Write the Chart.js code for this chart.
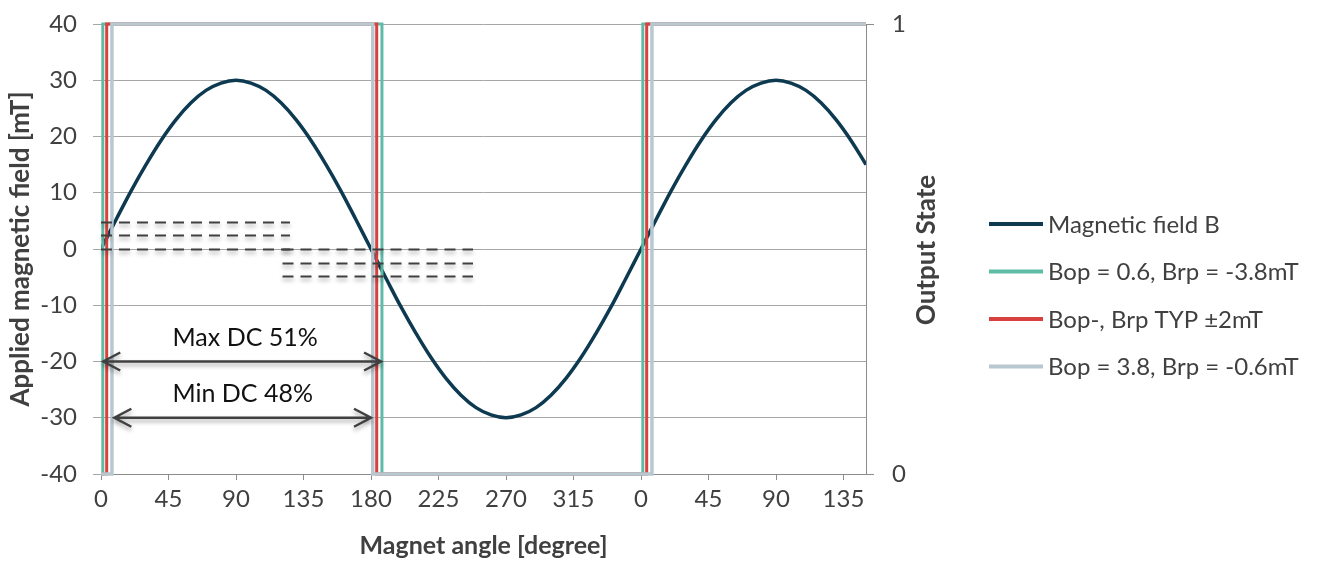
<!DOCTYPE html>
<html>
<head>
<meta charset="utf-8">
<script src="https://cdn.jsdelivr.net/npm/chart.js@4.4.0/dist/chart.umd.min.js"></script>
<style>
  html, body { margin: 0; padding: 0; background: #fff; }
  #wrap { width: 1317px; height: 562px; }
</style>
</head>
<body>
<div id="wrap"><canvas id="chart" width="1317" height="562"></canvas></div>
<script>
// Magnet angle (degrees, continuous) and field
const angles = [0, 10, 20, 30, 40, 50, 60, 70, 80, 90, 100, 110, 120, 130, 140, 150, 160, 170, 180,
  190, 200, 210, 220, 230, 240, 250, 260, 270, 280, 290, 300, 310, 320, 330, 340, 350, 360,
  370, 380, 390, 400, 410, 420, 430, 440, 450, 460, 470, 480, 490, 500, 510];
const fieldB = [0, 5.2, 10.3, 15, 19.3, 23, 26, 28.2, 29.5, 30, 29.5, 28.2, 26, 23, 19.3, 15, 10.3, 5.2, 0,
  -5.2, -10.3, -15, -19.3, -23, -26, -28.2, -29.5, -30, -29.5, -28.2, -26, -23, -19.3, -15, -10.3, -5.2, 0,
  5.2, 10.3, 15, 19.3, 23, 26, 28.2, 29.5, 30, 29.5, 28.2, 26, 23, 19.3, 15];

// Output state switching points (angle where state changes, new state)
const stateValues = [0, 1, 0, 1, 1];
const switchLow = [0, 1.2, 187.3, 361.2, 510];   // Bop = 0.6, Brp = -3.8
const switchTyp = [0, 3.8, 183.8, 363.8, 510];   // Bop/Brp typ +-2
const switchHigh = [0, 7.3, 181.2, 367.3, 510];  // Bop = 3.8, Brp = -0.6

const seriesNames = ['Magnetic field B', 'Bop = 0.6, Brp = -3.8mT', 'Bop-, Brp TYP \u00b12mT', 'Bop = 3.8, Brp = -0.6mT'];
const seriesColors = ['#0d3a50', '#5fbba6', '#d9413e', '#b8c8d0'];

const xTickValues = [0, 45, 90, 135, 180, 225, 270, 315, 360, 405, 450, 495];
const xTickLabels = ['0', '45', '90', '135', '180', '225', '270', '315', '0', '45', '90', '135'];

// dashed threshold markers
const dashLevelsA = [4.75, 2.5, 0];
const dashSpanA = [0, 126];
const dashLevelsB = [0, -2.4, -4.75];
const dashSpanB = [121, 248];

// duty cycle arrows
const dcLabels = ['Max DC 51%', 'Min DC 48%'];
const dcFrom = [1.5, 8.9];
const dcTo = [186.7, 180];
const dcLevel = [-20, -30];

function pts(xs, ys) {
  return xs.map((v, i) => ({ x: v, y: ys[i] }));
}

Chart.defaults.font.family = 'Lato, "Open Sans", sans-serif';
Chart.defaults.color = '#404040';

const overlay = {
  id: 'overlay',
  afterDatasetsDraw(chart) {
    const ctx = chart.ctx;
    const xs = chart.scales.x, ys = chart.scales.y;
    ctx.save();
    ctx.shadowColor = 'rgba(0,0,0,0.35)';
    ctx.shadowBlur = 4;
    ctx.shadowOffsetY = 3;
    ctx.strokeStyle = '#404040';
    ctx.lineWidth = 2;
    ctx.setLineDash([11, 7]);
    [[dashLevelsA, dashSpanA], [dashLevelsB, dashSpanB]].forEach(([levels, span]) => {
      levels.forEach(l => {
        const py = Math.round(ys.getPixelForValue(l)) + 0.5;
        ctx.beginPath();
        ctx.moveTo(xs.getPixelForValue(span[0]), py);
        ctx.lineTo(xs.getPixelForValue(span[1]), py);
        ctx.stroke();
      });
    });
    ctx.setLineDash([]);
    ctx.lineWidth = 2.5;
    dcLabels.forEach((txt, i) => {
      const x1 = xs.getPixelForValue(dcFrom[i]);
      const x2 = xs.getPixelForValue(dcTo[i]);
      const py = ys.getPixelForValue(dcLevel[i]);
      ctx.beginPath();
      ctx.moveTo(x1, py); ctx.lineTo(x2, py);
      ctx.moveTo(x1 + 17, py - 9); ctx.lineTo(x1, py); ctx.lineTo(x1 + 17, py + 9);
      ctx.moveTo(x2 - 17, py - 9); ctx.lineTo(x2, py); ctx.lineTo(x2 - 17, py + 9);
      ctx.stroke();
    });
    ctx.shadowColor = 'transparent';
    ctx.fillStyle = '#111';
    ctx.font = '25px Lato';
    ctx.textAlign = 'center';
    ctx.textBaseline = 'alphabetic';
    dcLabels.forEach((txt, i) => {
      const mid = xs.getPixelForValue((dcFrom[i] + dcTo[i]) / 2);
      ctx.fillText(txt, mid + (i === 0 ? 3 : 0), ys.getPixelForValue(dcLevel[i]) - 16);
    });

    // legend
    ctx.font = '24px Lato';
    ctx.textAlign = 'left';
    ctx.textBaseline = 'middle';
    ctx.lineWidth = 4;
    seriesNames.forEach((name, i) => {
      const ly = 224 + i * 47.5;
      ctx.strokeStyle = seriesColors[i];
      ctx.beginPath();
      ctx.moveTo(989, ly); ctx.lineTo(1043, ly);
      ctx.stroke();
      ctx.fillStyle = '#404040';
      ctx.fillText(name, 1048, ly + 1);
    });

    // right axis title
    ctx.font = 'bold 26px Lato';
    ctx.textAlign = 'center';
    ctx.translate(927, 250);
    ctx.rotate(-Math.PI / 2);
    ctx.fillText('Output State', 0, 0);
    ctx.restore();
  }
};

function noPad(s) {
  s.paddingTop = 0; s.paddingBottom = 0; s.paddingLeft = 0; s.paddingRight = 0;
}

new Chart(document.getElementById('chart'), {
  type: 'line',
  data: {
    datasets: [
      { label: seriesNames[0], data: pts(angles, fieldB), yAxisID: 'y', borderColor: seriesColors[0],
        borderWidth: 3.5, tension: 0.4, pointRadius: 0, order: 3 },
      { label: seriesNames[1], data: pts(switchLow, stateValues), yAxisID: 'y2', borderColor: seriesColors[1],
        borderWidth: 3, stepped: true, pointRadius: 0, order: 2, clip: false },
      { label: seriesNames[2], data: pts(switchTyp, stateValues), yAxisID: 'y2', borderColor: seriesColors[2],
        borderWidth: 3, stepped: true, pointRadius: 0, order: 1, clip: false },
      { label: seriesNames[3], data: pts(switchHigh, stateValues), yAxisID: 'y2', borderColor: seriesColors[3],
        borderWidth: 3.5, stepped: true, pointRadius: 0, order: 0, clip: false }
    ]
  },
  options: {
    responsive: false,
    animation: false,
    layout: { padding: { top: 24, left: 0, right: 0, bottom: 0 } },
    plugins: { legend: { display: false }, tooltip: { enabled: false } },
    scales: {
      x: {
        type: 'linear', min: 0, max: 510,
        afterBuildTicks: s => { s.ticks = xTickValues.map(v => ({ value: v })); },
        afterFit: s => { s.height = 88; noPad(s); },
        ticks: { callback: (v, i) => xTickLabels[i], font: { size: 24 }, padding: 5, maxRotation: 0, autoSkip: false },
        grid: { drawOnChartArea: false, tickLength: 6, color: '#8c8c8c' },
        border: { color: '#8c8c8c' },
        title: { display: true, text: 'Magnet angle [degree]', font: { size: 25, weight: 'bold' }, padding: { top: 0, bottom: 1 } }
      },
      y: {
        position: 'left', min: -40, max: 40,
        afterFit: s => { s.width = 101; noPad(s); },
        ticks: { stepSize: 10, font: { size: 24 }, padding: 16 },
        grid: { color: '#a6a6a6', tickLength: 8 },
        border: { display: false },
        title: { display: true, text: 'Applied magnetic field [mT]', font: { size: 26, weight: 'bold' }, padding: { top: 5, bottom: 0 } }
      },
      y2: {
        position: 'right', min: 0, max: 1,
        afterFit: s => { s.width = 451; noPad(s); },
        ticks: { stepSize: 1, font: { size: 24 }, padding: 18 },
        grid: { drawOnChartArea: false, tickLength: 8, color: '#8c8c8c' },
        border: { color: '#8c8c8c' }
      }
    }
  },
  plugins: [overlay]
});
</script>
</body>
</html>
